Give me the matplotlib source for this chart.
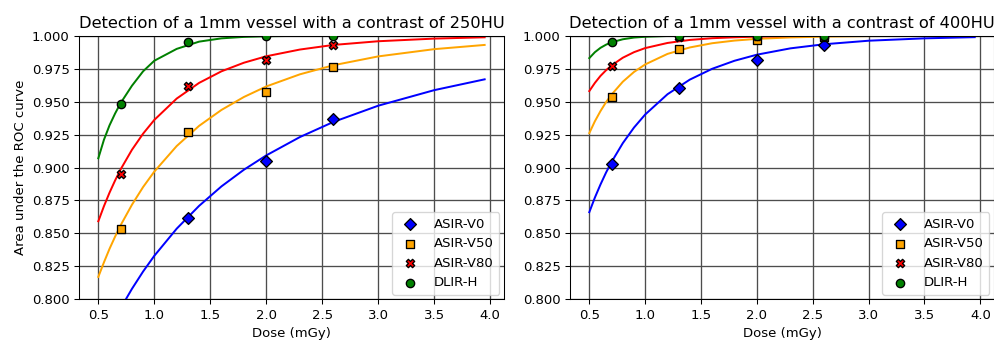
# ROC detection of a 1mm vessel vs dose, two contrast levels
import numpy as np
import matplotlib.pyplot as plt

# Measured points (dose in mGy)
dose_pts = [0.7, 1.3, 2.0, 2.6]

auc_250_v0 = [0.785, 0.862, 0.905, 0.937]
auc_250_v50 = [0.853, 0.927, 0.957, 0.9765]
auc_250_v80 = [0.895, 0.962, 0.9815, 0.993]
auc_250_dlir = [0.948, 0.995, 0.9995, 1.0]

auc_400_v0 = [0.903, 0.960, 0.9815, 0.993]
auc_400_v50 = [0.9535, 0.990, 0.997, 0.999]
auc_400_v80 = [0.977, 0.999, 1.0, 1.0]
auc_400_dlir = [0.995, 1.0, 1.0, 1.0]

# Fitted curves
dose_fit = [0.5, 0.55, 0.6, 0.65, 0.7, 0.8, 0.9, 1.0, 1.2, 1.4, 1.6, 1.8,
            2.0, 2.3, 2.6, 3.0, 3.5, 3.95]

fit_250_v0 = [0.7574, 0.7673, 0.7767, 0.7851, 0.7933, 0.8079, 0.8211, 0.8330,
              0.8536, 0.8709, 0.8857, 0.8983, 0.9092, 0.9231, 0.9346, 0.9469,
              0.9587, 0.9669]
fit_250_v50 = [0.8170, 0.8280, 0.8383, 0.8476, 0.8563, 0.8717, 0.8852, 0.8969,
               0.9163, 0.9316, 0.9437, 0.9535, 0.9615, 0.9707, 0.9776, 0.9843,
               0.9898, 0.9930]
fit_250_v80 = [0.8592, 0.8706, 0.8809, 0.8902, 0.8987, 0.9134, 0.9257, 0.9361,
               0.9523, 0.9642, 0.9730, 0.9795, 0.9844, 0.9895, 0.9930, 0.9958,
               0.9978, 0.9988]
fit_250_dlir = [0.907, 0.921, 0.932, 0.941, 0.949, 0.962, 0.973, 0.981,
                0.990, 0.9955, 0.998, 0.9991, 0.9996, 0.9999, 1.0, 1.0,
                1.0, 1.0]

fit_400_v0 = [0.8661, 0.8772, 0.8871, 0.8962, 0.9043, 0.9185, 0.9303, 0.9402,
              0.9556, 0.9667, 0.9749, 0.9810, 0.9856, 0.9904, 0.9935, 0.9962,
              0.9980, 0.9989]
fit_400_v50 = [0.9261, 0.9351, 0.9428, 0.9496, 0.9554, 0.9651, 0.9725, 0.9782,
               0.9862, 0.9911, 0.9943, 0.9963, 0.9976, 0.9987, 0.9993, 0.9997,
               0.9999, 1.0]
fit_400_v80 = [0.9580, 0.9642, 0.9695, 0.9738, 0.9775, 0.9833, 0.9875, 0.9906,
               0.9945, 0.9968, 0.9981, 0.9988, 0.9993, 0.9997, 0.9998, 0.9999,
               1.0, 1.0]
fit_400_dlir = [0.983, 0.9875, 0.9908, 0.9932, 0.9950, 0.9973, 0.9986, 0.9992,
                0.9998, 0.9999, 1.0, 1.0, 1.0, 1.0, 1.0, 1.0,
                1.0, 1.0]

labels = ["ASIR-V0", "ASIR-V50", "ASIR-V80", "DLIR-H"]
colors = ["blue", "orange", "red", "green"]
markers = ["D", "s", "X", "o"]

panels = [
    ("250HU", [auc_250_v0, auc_250_v50, auc_250_v80, auc_250_dlir],
     [fit_250_v0, fit_250_v50, fit_250_v80, fit_250_dlir]),
    ("400HU", [auc_400_v0, auc_400_v50, auc_400_v80, auc_400_dlir],
     [fit_400_v0, fit_400_v50, fit_400_v80, fit_400_dlir]),
]

fig = plt.figure(figsize=(995 / 95, 343 / 95), dpi=95)
ax_pos = [[0.0794, 0.1274, 0.4271, 0.7685],
          [0.5729, 0.1274, 0.4261, 0.7685]]

for i, (contrast, pts, fits) in enumerate(panels):
    ax = fig.add_axes(ax_pos[i])
    for j in range(4):
        ax.plot(dose_fit, fits[j], color=colors[j], lw=1.5)
        ax.scatter(dose_pts, pts[j], marker=markers[j], color=colors[j],
                   edgecolor="black", linewidth=1, s=40, zorder=3,
                   label=labels[j])
    ax.set_ylim(0.8, 1.0)
    ax.set_xticks(np.arange(0.5, 4.01, 0.5))
    ax.set_yticks(np.arange(0.8, 1.001, 0.025))
    ax.yaxis.set_major_formatter(plt.FormatStrFormatter("%.3f"))
    ax.grid(True, color="0.3", linewidth=1)
    ax.set_axisbelow(True)
    ax.set_title("Detection of a 1mm vessel with a contrast of " + contrast,
                 fontsize=12.3)
    ax.set_xlabel("Dose (mGy)")
    if i == 0:
        ax.set_ylabel("Area under the ROC curve")
    ax.legend(loc="lower right", borderaxespad=0.35)

fig.savefig("out.png", dpi=95)
